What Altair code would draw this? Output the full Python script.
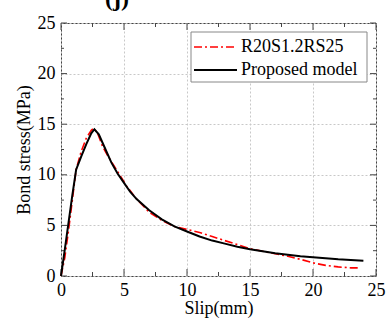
import altair as alt
import pandas as pd

# Experimental curve (R20S1.2RS25)
exp_x = [0, 0.3, 0.6, 0.9, 1.2, 1.6, 2.0, 2.4, 2.6, 2.9, 3.3, 3.7, 4.2, 4.7, 5.2, 6, 7, 8, 9, 10, 11, 12, 13, 14, 15, 16, 17, 18, 19, 20, 21, 22, 23, 23.7]
exp_y = [0, 1.8, 4.5, 7.5, 10.5, 12.3, 13.6, 14.4, 14.6, 14.1, 12.8, 11.9, 10.9, 9.9, 8.9, 7.6, 6.3, 5.5, 4.9, 4.6, 4.3, 3.9, 3.5, 3.1, 2.7, 2.45, 2.2, 1.95, 1.65, 1.3, 1.05, 0.9, 0.8, 0.8]

# Proposed model
mod_x = [0, 0.3, 0.6, 0.9, 1.2, 1.6, 2.0, 2.4, 2.65, 3.0, 3.5, 4, 4.5, 5, 5.5, 6, 7, 8, 9, 10, 11, 12, 13, 14, 15, 16, 17, 18, 19, 20, 21, 22, 23, 24]
mod_y = [0, 2.6, 5.3, 8.0, 10.5, 11.8, 13.0, 14.1, 14.5, 14.0, 12.6, 11.2, 10.1, 9.2, 8.3, 7.6, 6.5, 5.6, 4.9, 4.4, 3.9, 3.5, 3.2, 2.9, 2.65, 2.45, 2.25, 2.1, 1.95, 1.85, 1.75, 1.65, 1.58, 1.5]

x_major = [0, 5, 10, 15, 20, 25]
x_minor = [2.5, 7.5, 12.5, 17.5, 22.5]
y_major = [0, 5, 10, 15, 20, 25]
y_minor = [2.5, 7.5, 12.5, 17.5, 22.5]

legend_labels = ["R20S1.2RS25", "Proposed model"]

W, H = 315, 253
FONT = "Liberation Serif"

xs = alt.Scale(domain=[0, 25], nice=False, zero=False)
ys = alt.Scale(domain=[0, 25], nice=False, zero=False)

df_exp = pd.DataFrame({"x": exp_x, "y": exp_y, "order": range(len(exp_x))})
df_mod = pd.DataFrame({"x": mod_x, "y": mod_y, "order": range(len(mod_x))})

base_axes = alt.Chart(pd.DataFrame({"x": [0], "y": [0]})).mark_point(opacity=0).encode(
    x=alt.X("x:Q", scale=xs, title="Slip(mm)",
            axis=alt.Axis(values=x_major, ticks=False, domain=False, grid=True,
                          gridDash=[2, 2], gridColor="#c8c8c8", gridWidth=1,
                          labelFont=FONT, labelFontSize=18, labelColor="black",
                          labelPadding=5, titleFont=FONT, titleFontSize=18,
                          titleFontWeight="normal", titleColor="black", titlePadding=0,
                          labelFlush=False)),
    y=alt.Y("y:Q", scale=ys, title="Bond stress(MPa)",
            axis=alt.Axis(values=y_major, ticks=False, domain=False, grid=True,
                          gridDash=[2, 2], gridColor="#c8c8c8", gridWidth=1,
                          labelFont=FONT, labelFontSize=18, labelColor="black",
                          labelPadding=6, titleFont=FONT, titleFontSize=18,
                          titleFontWeight="normal", titleColor="black", titlePadding=4,
                          labelFlush=False)),
)

def xticks(vals, length):
    d = pd.DataFrame({"x": vals})
    bottom = alt.Chart(d).mark_rule(color="#444", strokeWidth=1).encode(
        x=alt.X("x:Q", scale=xs), y=alt.value(H), y2=alt.value(H - length))
    top = alt.Chart(d).mark_rule(color="#444", strokeWidth=1).encode(
        x=alt.X("x:Q", scale=xs), y=alt.value(0), y2=alt.value(length))
    return bottom + top

def yticks(vals, length):
    d = pd.DataFrame({"y": vals})
    left = alt.Chart(d).mark_rule(color="#444", strokeWidth=1).encode(
        y=alt.Y("y:Q", scale=ys), x=alt.value(0), x2=alt.value(length))
    right = alt.Chart(d).mark_rule(color="#444", strokeWidth=1).encode(
        y=alt.Y("y:Q", scale=ys), x=alt.value(W), x2=alt.value(W - length))
    return left + right

exp_line = alt.Chart(df_exp).mark_line(color="red", strokeWidth=1.6,
                                       strokeDash=[8, 3, 2, 3]).encode(
    x=alt.X("x:Q", scale=xs), y=alt.Y("y:Q", scale=ys), order="order:Q")
mod_line = alt.Chart(df_mod).mark_line(color="black", strokeWidth=2).encode(
    x=alt.X("x:Q", scale=xs), y=alt.Y("y:Q", scale=ys), order="order:Q")

# legend
one = pd.DataFrame({"a": [0]})
leg_box = alt.Chart(one).mark_rect(
    fill="white", stroke="#888", strokeWidth=1).encode(
    x=alt.value(130), x2=alt.value(306), y=alt.value(9), y2=alt.value(59))
leg_red = alt.Chart(one).mark_rule(
    color="red", strokeWidth=1.6, strokeDash=[8, 3, 2, 3]).encode(
    x=alt.value(133), x2=alt.value(176), y=alt.value(24))
leg_black = alt.Chart(one).mark_rule(
    color="black", strokeWidth=2).encode(
    x=alt.value(133), x2=alt.value(176), y=alt.value(47))
leg_t1 = alt.Chart(pd.DataFrame({"label": [legend_labels[0]]})).mark_text(
    font=FONT, fontSize=18, align="left", baseline="middle", color="black").encode(
    x=alt.value(180), y=alt.value(24), text="label:N")
leg_t2 = alt.Chart(pd.DataFrame({"label": [legend_labels[1]]})).mark_text(
    font=FONT, fontSize=18, align="left", baseline="middle", color="black").encode(
    x=alt.value(180), y=alt.value(47), text="label:N")

title = alt.Chart(pd.DataFrame({"t": ["(j)"]})).mark_text(
    font=FONT, fontSize=24, fontWeight="bold", align="center", baseline="alphabetic",
    color="black").encode(x=alt.value(56), y=alt.value(-17), text="t:N")

chart = alt.layer(
    base_axes, xticks(x_major, 7), xticks(x_minor, 4), yticks(y_major, 6), yticks(y_minor, 3),
    exp_line, mod_line, leg_box, leg_red, leg_black, leg_t1, leg_t2, title
).properties(
    width=W, height=H,
    autosize=alt.AutoSizeParams(type="none"),
    padding={"left": 61, "top": 23, "right": 10, "bottom": 46},
    background="white",
).configure_view(stroke="#444", strokeWidth=1)

chart.save("out.html", embed_options={"renderer": "svg", "actions": False})
